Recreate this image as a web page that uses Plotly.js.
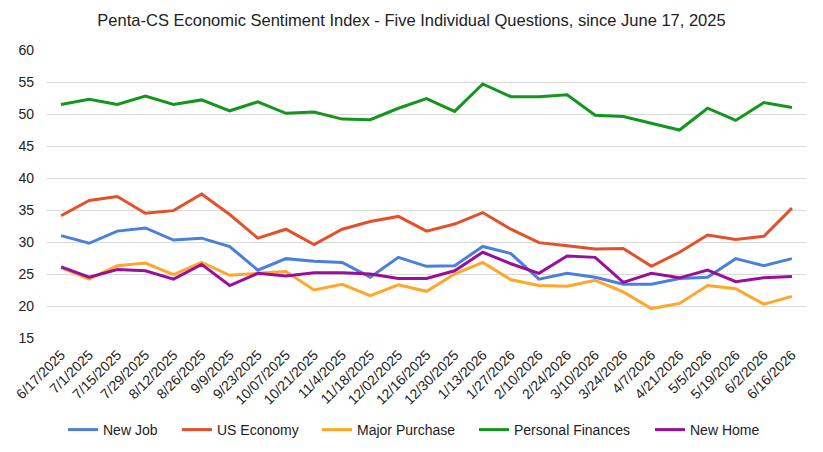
<!DOCTYPE html>
<html>
<head>
<meta charset="utf-8">
<script src="https://cdn.plot.ly/plotly-3.0.1.min.js"></script>
<style>html,body{margin:0;padding:0;background:#fff;}#chart{width:823px;height:452px;}</style>
</head>
<body>
<div id="chart"></div>
<script>
const dates = ["6/17/2025","7/1/2025","7/15/2025","7/29/2025","8/12/2025","8/26/2025","9/9/2025","9/23/2025","10/07/2025","10/21/2025","11/4/2025","11/18/2025","12/02/2025","12/16/2025","12/30/2025","1/13/2026","1/27/2026","2/10/2026","2/24/2026","3/10/2026","3/24/2026","4/7/2026","4/21/2026","5/5/2026","5/19/2026","6/2/2026","6/16/2026"];
const newJob = [31.0,29.8,31.7,32.2,30.3,30.6,29.3,25.6,27.4,27.0,26.8,24.5,27.6,26.2,26.3,29.3,28.2,24.2,25.1,24.5,23.4,23.4,24.3,24.5,27.4,26.3,27.4];
const usEconomy = [34.1,36.5,37.1,34.5,34.9,37.5,34.3,30.6,32.0,29.6,32.0,33.2,34.0,31.7,32.8,34.6,32.0,29.9,29.4,28.9,29.0,26.2,28.4,31.1,30.4,30.9,35.3];
const majorPurchase = [26.0,24.2,26.3,26.7,24.9,26.8,24.8,25.1,25.4,22.5,23.4,21.6,23.3,22.3,25.0,26.8,24.1,23.2,23.1,24.0,22.2,19.6,20.4,23.2,22.7,20.3,21.5];
const personalFinances = [51.5,52.3,51.5,52.8,51.5,52.2,50.5,51.9,50.1,50.3,49.2,49.1,50.9,52.4,50.4,54.7,52.7,52.7,53.0,49.8,49.6,48.5,47.5,50.9,49.0,51.8,51.0];
const newHome = [26.1,24.5,25.7,25.5,24.2,26.5,23.2,25.1,24.7,25.2,25.2,25.0,24.3,24.3,25.5,28.4,26.6,25.1,27.8,27.6,23.7,25.1,24.4,25.6,23.8,24.4,24.6];

const seriesNames = ["New Job", "US Economy", "Major Purchase", "Personal Finances", "New Home"];
const seriesValues = [newJob, usEconomy, majorPurchase, personalFinances, newHome];
const seriesColors = ["#4a7fdc", "#e4502a", "#ffa62b", "#14961e", "#990f9c"];
const legendIds = ["legend", "legend2", "legend3", "legend4", "legend5"];

const traces = seriesNames.map((n, i) => ({
  type: "scatter", mode: "lines", name: n, x: dates, y: seriesValues[i],
  line: {color: seriesColors[i], width: 3}, legend: legendIds[i]
}));

// plot area: x 47..806 px, y 50..338 px
const legendPx = [68, 182, 322, 479, 655];
const layout = {
  width: 823, height: 452,
  margin: {l: 47, r: 17, t: 50, b: 114, autoexpand: false},
  paper_bgcolor: "#ffffff", plot_bgcolor: "#ffffff",
  font: {family: "Liberation Sans, Arial, sans-serif", size: 14, color: "#222"},
  title: {text: "Penta-CS Economic Sentiment Index - Five Individual Questions, since June 17, 2025",
          font: {size: 16.5, color: "#222"}, x: 0.5, xanchor: "center", y: 0.955, yanchor: "middle"},
  xaxis: {type: "category", range: [-0.5, 26.5], tickangle: -45, showgrid: false,
          showline: false, zeroline: false, ticks: "", ticklabelstandoff: 5,
          tickfont: {size: 14, color: "#222"}, automargin: false},
  yaxis: {range: [15, 60], dtick: 5, tick0: 15, showgrid: true, gridcolor: "#d9d9d9", gridwidth: 1,
          zeroline: false, showline: false, ticks: "", ticklabelstandoff: 12, tickfont: {size: 14, color: "#222"}, automargin: false},
  showlegend: true
};
legendIds.forEach((id, i) => {
  layout[id] = {orientation: "h", x: (legendPx[i] - 5 - 47) / 759, xanchor: "left",
                y: (338 - 430) / 288, yanchor: "middle",
                font: {size: 14, color: "#222"}, itemwidth: 30, bgcolor: "rgba(0,0,0,0)"};
});

Plotly.newPlot("chart", traces, layout, {displayModeBar: false, staticPlot: true});
</script>
</body>
</html>
